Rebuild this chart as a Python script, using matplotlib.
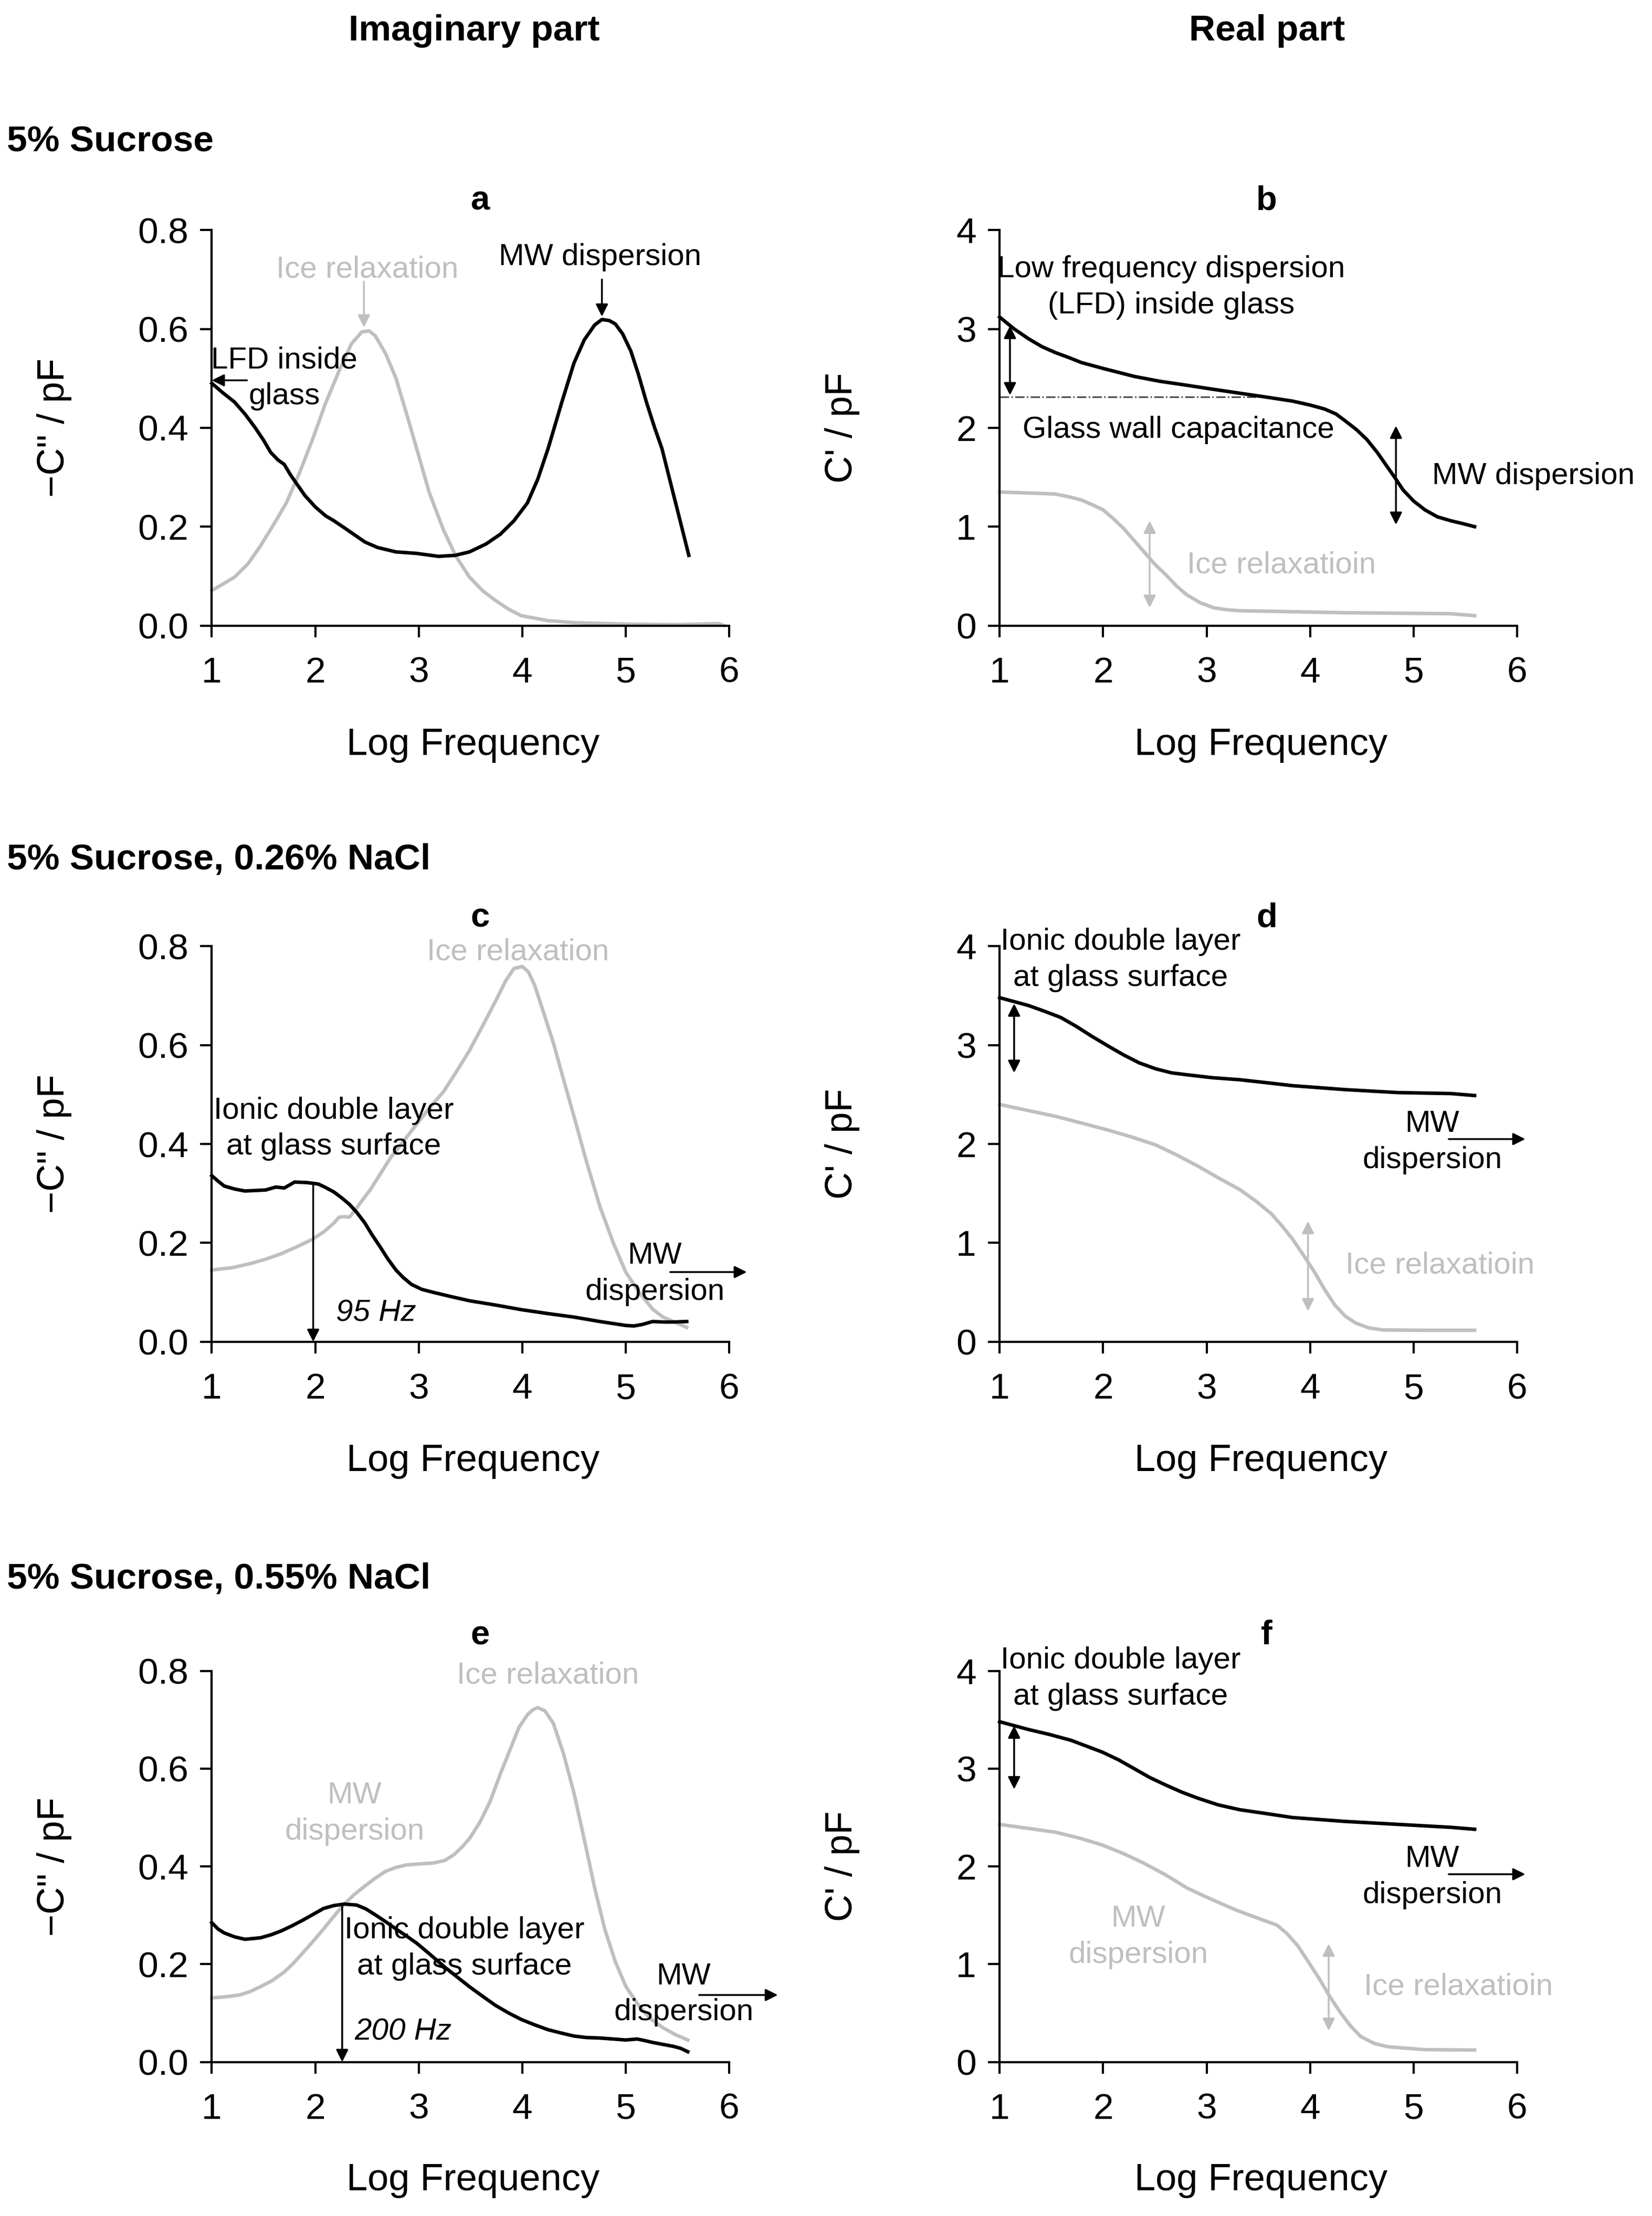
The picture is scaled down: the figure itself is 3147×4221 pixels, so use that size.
import matplotlib
matplotlib.use('Agg')
import matplotlib.pyplot as plt

plt.rcParams['font.family'] = ['Liberation Sans', 'DejaVu Sans']

GREY = '#bfbfbf'

# ---- panel a : imaginary, 5% sucrose
a_x_black = [1.0, 1.1, 1.22, 1.32, 1.42, 1.5, 1.57, 1.64, 1.70, 1.76, 1.82, 1.9, 2.0, 2.1, 2.18, 2.3, 2.48, 2.6,
             2.78, 2.98, 3.19, 3.35, 3.49, 3.65, 3.79, 3.92, 4.05, 4.15, 4.25, 4.38, 4.5, 4.6, 4.7, 4.77, 4.84, 4.9,
             4.97, 5.05, 5.12, 5.2, 5.28, 5.35, 5.48, 5.61]
a_y_black = [0.49, 0.472, 0.452, 0.428, 0.40, 0.375, 0.35, 0.335, 0.326, 0.305, 0.287, 0.263, 0.24, 0.222, 0.212,
             0.195, 0.169, 0.158, 0.149, 0.146, 0.140, 0.142, 0.149, 0.165, 0.185, 0.212, 0.248, 0.296, 0.358, 0.45,
             0.531, 0.578, 0.608, 0.619, 0.617, 0.61, 0.59, 0.555, 0.51, 0.452, 0.40, 0.358, 0.25, 0.142]
a_x_grey = [1.0, 1.1, 1.22, 1.35, 1.47, 1.6, 1.72, 1.85, 1.98, 2.1, 2.23, 2.35, 2.45, 2.52, 2.58, 2.68, 2.78, 2.88,
            2.98, 3.1, 3.24, 3.36, 3.49, 3.62, 3.74, 3.87, 3.99, 4.25, 4.5, 5.0, 5.5, 5.9, 5.95]
a_y_grey = [0.071, 0.083, 0.098, 0.125, 0.161, 0.205, 0.248, 0.31, 0.38, 0.45, 0.515, 0.57, 0.594, 0.596, 0.586,
            0.55, 0.50, 0.43, 0.358, 0.27, 0.193, 0.14, 0.098, 0.07, 0.051, 0.033, 0.020, 0.01, 0.006, 0.003, 0.002,
            0.004, 0.0]

# ---- panel b : real, 5% sucrose
b_x_black = [1.0, 1.14, 1.28, 1.41, 1.54, 1.67, 1.79, 2.0, 2.3, 2.55, 2.81, 3.06, 3.32, 3.58, 3.83, 4.0, 4.14, 4.25,
             4.34, 4.45, 4.55, 4.65, 4.75, 4.83, 4.90, 5.0, 5.11, 5.23, 5.36, 5.48, 5.59]
b_y_black = [3.12, 3.0, 2.90, 2.82, 2.76, 2.71, 2.66, 2.60, 2.52, 2.47, 2.43, 2.39, 2.35, 2.31, 2.27, 2.23, 2.19,
             2.14, 2.07, 1.98, 1.88, 1.75, 1.60, 1.48, 1.37, 1.26, 1.17, 1.10, 1.06, 1.03, 1.0]
b_x_grey = [1.0, 1.3, 1.54, 1.68, 1.79, 1.9, 2.0, 2.1, 2.2, 2.3, 2.40, 2.5, 2.61, 2.71, 2.81, 2.94, 3.07, 3.2, 3.32,
            3.6, 3.83, 4.34, 4.85, 5.36, 5.59]
b_y_grey = [1.35, 1.34, 1.33, 1.30, 1.27, 1.22, 1.17, 1.08, 0.98, 0.86, 0.74, 0.62, 0.51, 0.40, 0.31, 0.23, 0.18,
            0.16, 0.15, 0.145, 0.14, 0.13, 0.125, 0.12, 0.10]

# ---- panel c : imaginary, 0.26% NaCl
c_x_black = [1.0, 1.06, 1.12, 1.22, 1.32, 1.42, 1.52, 1.62, 1.70, 1.80, 1.92, 2.03, 2.1, 2.18, 2.25, 2.33, 2.4, 2.48,
             2.55, 2.63, 2.7, 2.78, 2.85, 2.93, 3.03, 3.14, 3.3, 3.49, 3.75, 3.99, 4.25, 4.5, 4.75, 5.0, 5.08, 5.16,
             5.26, 5.36, 5.46, 5.59]
c_y_black = [0.336, 0.325, 0.315, 0.309, 0.305, 0.306, 0.307, 0.313, 0.311, 0.323, 0.322, 0.319, 0.312, 0.303, 0.292,
             0.278, 0.262, 0.240, 0.216, 0.191, 0.168, 0.145, 0.13, 0.116, 0.106, 0.10, 0.092, 0.083, 0.074, 0.065,
             0.057, 0.050, 0.041, 0.033, 0.032, 0.035, 0.041, 0.040, 0.040, 0.041]
c_x_grey = [1.0, 1.2, 1.37, 1.52, 1.67, 1.82, 1.97, 2.08, 2.18, 2.23, 2.28, 2.33, 2.38, 2.45, 2.53, 2.63, 2.73, 2.85,
            2.98, 3.1, 3.24, 3.36, 3.49, 3.62, 3.74, 3.84, 3.92, 4.0, 4.06, 4.12, 4.2, 4.3, 4.4, 4.5, 4.62, 4.75, 4.88,
            5.0, 5.13, 5.26, 5.36, 5.46, 5.59]
c_y_grey = [0.145, 0.15, 0.158, 0.167, 0.178, 0.192, 0.207, 0.222, 0.240, 0.252, 0.253, 0.252, 0.265, 0.285, 0.307,
            0.34, 0.373, 0.405, 0.44, 0.472, 0.506, 0.545, 0.589, 0.64, 0.688, 0.73, 0.755, 0.759, 0.748, 0.721, 0.67,
            0.605, 0.53, 0.456, 0.365, 0.274, 0.2, 0.141, 0.1, 0.066, 0.05, 0.041, 0.029]

# ---- panel d : real, 0.26% NaCl
d_x_black = [1.0, 1.14, 1.28, 1.44, 1.59, 1.74, 1.89, 2.05, 2.20, 2.35, 2.51, 2.66, 2.81, 3.06, 3.32, 3.58, 3.83,
             4.34, 4.85, 5.36, 5.59]
d_y_black = [3.48, 3.44, 3.40, 3.34, 3.28, 3.19, 3.09, 2.99, 2.90, 2.82, 2.76, 2.72, 2.70, 2.67, 2.65, 2.62, 2.59,
             2.55, 2.52, 2.51, 2.49]
d_x_grey = [1.0, 1.27, 1.54, 1.8, 2.05, 2.28, 2.51, 2.71, 2.91, 3.11, 3.32, 3.48, 3.63, 3.73, 3.83, 3.94, 4.04, 4.14,
            4.24, 4.34, 4.44, 4.57, 4.70, 5.11, 5.59]
d_y_grey = [2.40, 2.34, 2.28, 2.21, 2.14, 2.07, 1.99, 1.89, 1.78, 1.66, 1.54, 1.42, 1.29, 1.17, 1.04, 0.87, 0.71,
            0.53, 0.37, 0.26, 0.19, 0.14, 0.12, 0.116, 0.116]

# ---- panel e : imaginary, 0.55% NaCl
e_x_black = [1.0, 1.06, 1.12, 1.22, 1.32, 1.47, 1.57, 1.67, 1.77, 1.87, 1.98, 2.08, 2.18, 2.28, 2.40, 2.49, 2.58,
             2.68, 2.78, 2.88, 2.98, 3.11, 3.24, 3.37, 3.49, 3.62, 3.74, 3.87, 3.99, 4.12, 4.25, 4.38, 4.5, 4.62, 4.75,
             4.88, 5.0, 5.11, 5.18, 5.26, 5.36, 5.46, 5.53, 5.60]
e_y_black = [0.285, 0.272, 0.264, 0.256, 0.251, 0.254, 0.26, 0.268, 0.278, 0.289, 0.302, 0.314, 0.32, 0.323, 0.321,
             0.313, 0.301, 0.287, 0.272, 0.258, 0.243, 0.22, 0.196, 0.174, 0.154, 0.134, 0.116, 0.1, 0.087, 0.076,
             0.066, 0.059, 0.053, 0.05, 0.049, 0.047, 0.045, 0.047, 0.044, 0.040, 0.036, 0.032, 0.028, 0.021]
e_x_grey = [1.0, 1.12, 1.27, 1.37, 1.47, 1.58, 1.70, 1.78, 1.87, 1.98, 2.08, 2.18, 2.28, 2.38, 2.48, 2.58, 2.68, 2.78,
            2.88, 3.0, 3.14, 3.25, 3.34, 3.42, 3.49, 3.59, 3.69, 3.79, 3.89, 3.97, 4.05, 4.1, 4.15, 4.22, 4.30, 4.4,
            4.5, 4.6, 4.70, 4.8, 4.90, 5.0, 5.11, 5.23, 5.36, 5.48, 5.60]
e_y_grey = [0.131, 0.133, 0.137, 0.144, 0.154, 0.166, 0.184, 0.2, 0.221, 0.247, 0.272, 0.298, 0.323, 0.343, 0.36,
            0.376, 0.39, 0.398, 0.403, 0.405, 0.407, 0.412, 0.424, 0.44, 0.457, 0.49, 0.533, 0.59, 0.643, 0.685,
            0.71, 0.72, 0.725, 0.718, 0.693, 0.63, 0.55, 0.455, 0.356, 0.27, 0.205, 0.155, 0.12, 0.09, 0.07, 0.056,
            0.045]

# ---- panel f : real, 0.55% NaCl
f_x_black = [1.0, 1.14, 1.28, 1.48, 1.69, 1.84, 1.99, 2.15, 2.30, 2.45, 2.61, 2.76, 2.91, 3.11, 3.32, 3.58, 3.83,
             4.34, 4.85, 5.36, 5.59]
f_y_black = [3.48, 3.44, 3.40, 3.35, 3.29, 3.23, 3.17, 3.09, 3.0, 2.91, 2.83, 2.76, 2.70, 2.63, 2.58, 2.54, 2.50,
             2.46, 2.43, 2.40, 2.38]
f_x_grey = [1.0, 1.27, 1.54, 1.77, 1.99, 2.2, 2.40, 2.61, 2.81, 2.97, 3.12, 3.27, 3.42, 3.55, 3.68, 3.78, 3.88, 3.98,
            4.09, 4.19, 4.29, 4.39, 4.49, 4.62, 4.75, 5.11, 5.59]
f_y_grey = [2.43, 2.39, 2.35, 2.29, 2.22, 2.13, 2.03, 1.91, 1.78, 1.70, 1.63, 1.56, 1.50, 1.45, 1.40, 1.31, 1.19,
            1.03, 0.85, 0.67, 0.51, 0.37, 0.26, 0.19, 0.156, 0.126, 0.122]

imag_ticks = [0.0, 0.2, 0.4, 0.6, 0.8]
real_ticks = [0, 1, 2, 3, 4]
x_ticks = [1, 2, 3, 4, 5, 6]

fig = plt.figure(figsize=(31.47, 42.21), dpi=100)

LEFT_I, LEFT_R, W = 0.1282, 0.6051, 0.3132
rows = [(0.7177, 0.1785), (0.3945, 0.1785), (0.0695, 0.1765)]


def make_axes(left, row, imag):
    bottom, h = rows[row]
    ax = fig.add_axes([left, bottom, W, h])
    ax.spines['top'].set_visible(False)
    ax.spines['right'].set_visible(False)
    ax.spines['left'].set_linewidth(3)
    ax.spines['bottom'].set_linewidth(3)
    ax.set_xlim(1, 6)
    ax.set_xticks(x_ticks)
    if imag:
        ax.set_ylim(0, 0.8)
        ax.set_yticks(imag_ticks)
        ax.set_yticklabels(['%.1f' % t for t in imag_ticks])
        ax.set_ylabel('\u2212C" / pF', fontsize=52)
    else:
        ax.set_ylim(0, 4)
        ax.set_yticks(real_ticks)
        ax.set_ylabel("C' / pF", fontsize=52)
    ax.tick_params(direction='out', length=16, width=3, labelsize=50, pad=16)
    ax.tick_params(axis='x', pad=26)
    ax.set_xlabel('Log Frequency', fontsize=52)
    ax.xaxis.set_label_coords(0.505, -0.258)
    ax.yaxis.set_label_coords(-0.27, 0.5)
    return ax


def curves(ax, xb, yb, xg, yg):
    ax.plot(xg, yg, color=GREY, lw=4.8, clip_on=False)
    ax.plot(xb, yb, color='black', lw=4.8, clip_on=False)


def arrow(ax, x0, y0, x1, y1, color='black', both=False):
    ax.annotate('', xy=(x1, y1), xytext=(x0, y0), annotation_clip=False,
                arrowprops=dict(arrowstyle='<|-|>' if both else '-|>', color=color, lw=2.5,
                                mutation_scale=35, shrinkA=0, shrinkB=0))


FS = 42
LS = 1.35

# a
ax = make_axes(LEFT_I, 0, True)
curves(ax, a_x_black, a_y_black, a_x_grey, a_y_grey)
ax.text(2.5, 0.72, 'Ice relaxation', color=GREY, fontsize=FS, ha='center', va='center')
arrow(ax, 2.47, 0.696, 2.47, 0.603, color=GREY)
ax.text(4.75, 0.745, 'MW dispersion', fontsize=FS, ha='center', va='center')
arrow(ax, 4.77, 0.70, 4.77, 0.625)
ax.text(1.70, 0.50, 'LFD inside\nglass', fontsize=FS, ha='center', va='center', linespacing=LS)
arrow(ax, 1.34, 0.496, 1.0, 0.496)

# b
ax = make_axes(LEFT_R, 0, False)
ax.plot([1.0, 3.6], [2.31, 2.31], color='#404040', lw=2, ls='-.')
curves(ax, b_x_black, b_y_black, b_x_grey, b_y_grey)
ax.text(2.66, 3.42, 'Low frequency dispersion\n(LFD) inside glass', fontsize=FS, ha='center', va='center',
        linespacing=LS)
arrow(ax, 1.10, 3.03, 1.10, 2.33, both=True)
ax.text(2.73, 1.98, 'Glass wall capacitance', fontsize=FS, ha='center', va='center')
arrow(ax, 4.83, 2.02, 4.83, 1.02, both=True)
ax.text(5.18, 1.51, 'MW dispersion', fontsize=FS, ha='left', va='center')
arrow(ax, 2.45, 1.06, 2.45, 0.18, color=GREY, both=True)
ax.text(2.81, 0.61, 'Ice relaxatioin', color=GREY, fontsize=FS, ha='left', va='center')

# c
ax = make_axes(LEFT_I, 1, True)
curves(ax, c_x_black, c_y_black, c_x_grey, c_y_grey)
ax.text(3.96, 0.788, 'Ice relaxation', color=GREY, fontsize=FS, ha='center', va='center')
ax.text(2.18, 0.431, 'Ionic double layer\nat glass surface', fontsize=FS, ha='center', va='center',
        linespacing=LS)
arrow(ax, 1.98, 0.319, 1.98, 0.0)
ax.text(2.2, 0.058, '95 Hz', fontsize=FS, style='italic', ha='left', va='center')
ax.text(5.28, 0.137, 'MW\ndispersion', fontsize=FS, ha='center', va='center', linespacing=LS)
arrow(ax, 5.43, 0.141, 6.17, 0.141)

# d
ax = make_axes(LEFT_R, 1, False)
curves(ax, d_x_black, d_y_black, d_x_grey, d_y_grey)
ax.text(2.17, 3.86, 'Ionic double layer\nat glass surface', fontsize=FS, ha='center', va='center',
        linespacing=LS)
arrow(ax, 1.14, 3.42, 1.14, 2.72, both=True)
ax.text(5.18, 2.02, 'MW\ndispersion', fontsize=FS, ha='center', va='center', linespacing=LS)
arrow(ax, 5.34, 2.05, 6.08, 2.05)
arrow(ax, 3.98, 1.22, 3.98, 0.31, color=GREY, both=True)
ax.text(4.34, 0.77, 'Ice relaxatioin', color=GREY, fontsize=FS, ha='left', va='center')

# e
ax = make_axes(LEFT_I, 2, True)
curves(ax, e_x_black, e_y_black, e_x_grey, e_y_grey)
ax.text(4.25, 0.79, 'Ice relaxation', color=GREY, fontsize=FS, ha='center', va='center')
ax.text(2.38, 0.508, 'MW\ndispersion', color=GREY, fontsize=FS, ha='center', va='center', linespacing=LS)
ax.text(3.44, 0.232, 'Ionic double layer\nat glass surface', fontsize=FS, ha='center', va='center',
        linespacing=LS)
arrow(ax, 2.26, 0.323, 2.26, 0.0)
ax.text(2.38, 0.061, '200 Hz', fontsize=FS, style='italic', ha='left', va='center')
ax.text(5.56, 0.138, 'MW\ndispersion', fontsize=FS, ha='center', va='center', linespacing=LS)
arrow(ax, 5.71, 0.137, 6.47, 0.137)

# f
ax = make_axes(LEFT_R, 2, False)
curves(ax, f_x_black, f_y_black, f_x_grey, f_y_grey)
ax.text(2.17, 3.92, 'Ionic double layer\nat glass surface', fontsize=FS, ha='center', va='center',
        linespacing=LS)
arrow(ax, 1.14, 3.44, 1.14, 2.79, both=True)
ax.text(5.18, 1.89, 'MW\ndispersion', fontsize=FS, ha='center', va='center', linespacing=LS)
arrow(ax, 5.34, 1.92, 6.08, 1.92)
ax.text(2.34, 1.28, 'MW\ndispersion', color=GREY, fontsize=FS, ha='center', va='center', linespacing=LS)
arrow(ax, 4.18, 1.21, 4.18, 0.32, color=GREY, both=True)
ax.text(4.52, 0.77, 'Ice relaxatioin', color=GREY, fontsize=FS, ha='left', va='center')

# headings
fig.text(0.287, 0.986, 'Imaginary part', fontsize=50, fontweight='bold', ha='center', va='center')
fig.text(0.767, 0.986, 'Real part', fontsize=50, fontweight='bold', ha='center', va='center')
fig.text(0.004, 0.936, '5% Sucrose', fontsize=50, fontweight='bold', ha='left', va='center')
fig.text(0.004, 0.612, '5% Sucrose, 0.26% NaCl', fontsize=50, fontweight='bold', ha='left', va='center')
fig.text(0.004, 0.2874, '5% Sucrose, 0.55% NaCl', fontsize=50, fontweight='bold', ha='left', va='center')

for letter, x, y in [('a', 0.2906, 0.9095), ('b', 0.7667, 0.9095), ('c', 0.2906, 0.5857),
                     ('d', 0.7667, 0.5857), ('e', 0.2906, 0.262), ('f', 0.7667, 0.262)]:
    fig.text(x, y, letter, fontsize=47, fontweight='bold', ha='center', va='center')

fig.savefig('out.png', dpi=100)
